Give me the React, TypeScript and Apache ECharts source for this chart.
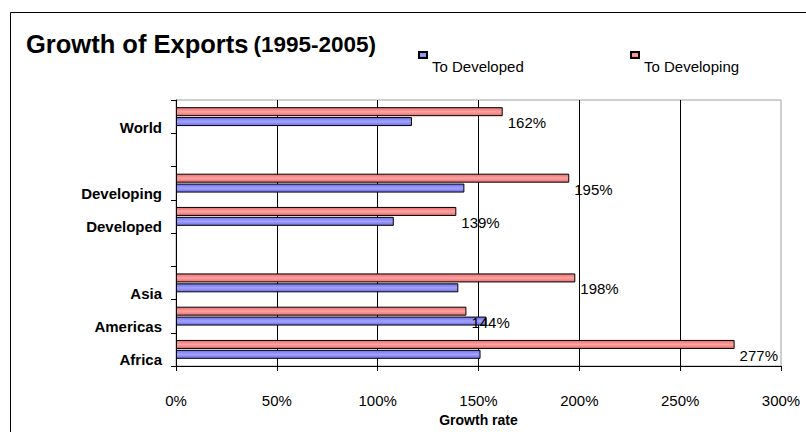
import React, { useEffect, useRef } from "react";
import * as echarts from "echarts";

const categories = ["Africa", "Americas", "Asia", " ", "Developed", "Developing", "  ", "World"];
const toDeveloped = [151, 154, 140, null, 108, 143, null, 117];
const toDeveloping = [277, 144, 198, null, 139, 195, null, 162];
const seriesNames = ["To Developed", "To Developing"];
const xTicks = { min: 0, max: 300, interval: 50 };

const FONT = "Liberation Sans, Arial, sans-serif";

const grad = (edge: string, mid: string) =>
  new echarts.graphic.LinearGradient(0, 0, 0, 1, [
    { offset: 0, color: edge },
    { offset: 0.5, color: mid },
    { offset: 1, color: edge },
  ]);

const legendBase = {
  top: 32,
  padding: 0,
  icon: "rect",
  itemWidth: 8,
  itemHeight: 6,
  formatter: (name: string) => "\n" + name,
  textStyle: { fontFamily: FONT, fontSize: 15, color: "#000", lineHeight: 23 },
};

export default function App() {
  const ref = useRef<HTMLDivElement>(null);
  useEffect(() => {
    if (!ref.current) return;
    const chart = echarts.init(ref.current, undefined, { renderer: "svg" });
    chart.setOption({
      animation: false,
      backgroundColor: "#fff",
      textStyle: { fontFamily: FONT },
      title: {
        left: 26,
        top: 31,
        padding: 0,
        text: "{a|Growth of Exports} {b|(1995-2005)}",
        textStyle: {
          rich: {
            a: { fontFamily: FONT, fontWeight: "bold", fontSize: 25.5, color: "#000" },
            b: { fontFamily: FONT, fontWeight: "bold", fontSize: 22.5, color: "#000" },
          },
        },
      },
      legend: [
        { ...legendBase, data: [seriesNames[0]], left: 418 },
        { ...legendBase, data: [seriesNames[1]], left: 630 },
      ],
      graphic: [
        {
          type: "rect",
          shape: { x: 10.5, y: 12.5, width: 900, height: 600 },
          style: { fill: "none", stroke: "#000", lineWidth: 1 },
          silent: true,
        },
      ],
      grid: {
        left: 176,
        right: 25,
        top: 100,
        bottom: 64,
        show: true,
        borderColor: "#a0a0a0",
        borderWidth: 1,
        backgroundColor: "transparent",
      },
      xAxis: {
        type: "value",
        min: xTicks.min,
        max: xTicks.max,
        interval: xTicks.interval,
        name: "Growth rate",
        nameLocation: "middle",
        nameGap: 47,
        nameTextStyle: { fontFamily: FONT, fontWeight: "bold", fontSize: 14, color: "#000" },
        axisLine: { show: true, lineStyle: { color: "#000", width: 1 } },
        axisTick: { show: true, length: 5, lineStyle: { color: "#000" } },
        axisLabel: {
          formatter: "{value}%",
          fontFamily: FONT,
          fontSize: 15,
          color: "#000",
          margin: 27,
        },
        splitLine: {
          show: true,
          showMinLine: false,
          showMaxLine: false,
          lineStyle: { color: "#000", width: 1 },
        },
      },
      yAxis: {
        type: "category",
        data: categories,
        axisLine: { show: true, lineStyle: { color: "#000", width: 1 } },
        axisTick: { show: true, length: 5, interval: 0, lineStyle: { color: "#000" } },
        axisLabel: {
          interval: 0,
          showMinLabel: true,
          showMaxLabel: true,
          hideOverlap: false,
          fontFamily: FONT,
          fontWeight: "bold",
          fontSize: 15,
          color: "#000",
          margin: 14,
          lineHeight: 21,
          formatter: (v: string) => "\n" + v,
        },
        splitLine: { show: false },
      },
      series: [
        {
          name: seriesNames[1],
          type: "bar",
          data: toDeveloping,
          barWidth: 9,
          barGap: "10%",
          itemStyle: { color: grad("#e66f6f", "#ffa3a3"), borderColor: "#000", borderWidth: 1 },
          label: {
            show: true,
            position: "right",
            distance: 5,
            offset: [0, 11],
            formatter: "{c}%",
            fontFamily: FONT,
            fontSize: 15,
            color: "#000",
          },
        },
        {
          name: seriesNames[0],
          type: "bar",
          data: toDeveloped,
          barWidth: 9,
          barGap: "10%",
          itemStyle: { color: grad("#6f6fe6", "#a3a3ff"), borderColor: "#000", borderWidth: 1 },
        },
      ],
    });
    return () => chart.dispose();
  }, []);
  return (
    <div
      ref={ref}
      style={{ position: "fixed", left: 0, top: 0, width: 806, height: 432 }}
    />
  );
}
